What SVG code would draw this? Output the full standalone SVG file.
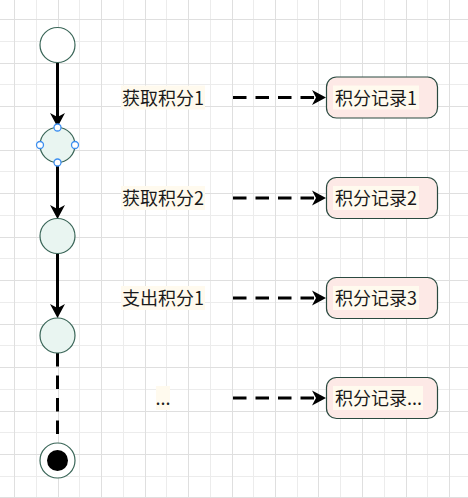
<svg xmlns="http://www.w3.org/2000/svg" width="468" height="498" viewBox="0 0 468 498">
<defs>
<style>
.gl{stroke:#ececec;stroke-width:1;fill:none}
.gd{stroke:#dfdfdf;stroke-width:1;fill:none}
.st{fill:#e9f5f1;stroke:#3a6658;stroke-width:1.2}
.box{fill:#fde9e6;stroke:#2a4a40;stroke-width:1.2}
.lbg{fill:#fffaee}
.tx{font-family:"Noto Sans CJK SC","Noto Sans",sans-serif;font-size:18px;fill:#1a1a1a}
.solid{stroke:#000;stroke-width:3;fill:none}
.dash{stroke:#000;stroke-width:3;fill:none;stroke-dasharray:13.5 9}
.hd{fill:#000}
.hdl{fill:#fff;stroke:#3d8ff0;stroke-width:1.3}
</style>
</defs>
<rect width="468" height="498" fill="#ffffff"/>
<g id="grid">
<path class="gl" d="M36.5 0V498M79.5 0V498M123.5 0V498M166.5 0V498M210.5 0V498M253.5 0V498M297.5 0V498M340.5 0V498M384.5 0V498M427.5 0V498M0 41.5H468M0 84.5H468M0 128.5H468M0 171.5H468M0 215.5H468M0 258.5H468M0 302.5H468M0 345.5H468M0 389.5H468M0 432.5H468M0 476.5H468"/>
<path class="gd" d="M14.5 0V498M58.5 0V498M101.5 0V498M145.5 0V498M188.5 0V498M232.5 0V498M275.5 0V498M318.5 0V498M362.5 0V498M406.5 0V498M449.5 0V498M0 19.5H468M0 63.5H468M0 106.5H468M0 150.5H468M0 193.5H468M0 237.5H468M0 280.5H468M0 324.5H468M0 367.5H468M0 411.5H468M0 454.5H468M0 497.5H468"/>
</g>
<g id="connectors">
<path class="solid" d="M57.5 63V118"/>
<path class="hd" d="M57.5 127L50 113L57.5 117L65 113Z"/>
<path class="solid" d="M57.5 163V210"/>
<path class="hd" d="M57.5 219L50 205L57.5 209L65 205Z"/>
<path class="solid" d="M57.5 254V309"/>
<path class="hd" d="M57.5 318L50 304L57.5 308L65 304Z"/>
<path class="dash" d="M57.5 353V442"/>
<path class="dash" d="M233 97.5H318"/>
<path class="hd" d="M326 97.5L312 90L316 97.5L312 105Z"/>
<path class="dash" d="M233 198H318"/>
<path class="hd" d="M326 198L312 190.5L316 198L312 205.5Z"/>
<path class="dash" d="M233 298H318"/>
<path class="hd" d="M326 298L312 290.5L316 298L312 305.5Z"/>
<path class="dash" d="M233 398H318"/>
<path class="hd" d="M326 398L312 390.5L316 398L312 405.5Z"/>
</g>
<g id="start"><circle cx="57.5" cy="45" r="17.5" fill="#ffffff" stroke="#3a6658" stroke-width="1.2"/></g>
<g id="state1">
<circle class="st" cx="57.5" cy="145" r="17.5"/>
<circle class="hdl" cx="57.5" cy="127.5" r="3.5"/>
<circle class="hdl" cx="57.5" cy="162.5" r="3.5"/>
<circle class="hdl" cx="40" cy="145" r="3.5"/>
<circle class="hdl" cx="75" cy="145" r="3.5"/>
</g>
<g id="state2"><circle class="st" cx="57.5" cy="236" r="17.5"/></g>
<g id="state3"><circle class="st" cx="57.5" cy="335.5" r="17.5"/></g>
<g id="end">
<circle cx="57.5" cy="460.5" r="17.5" fill="#ffffff" stroke="#3a6658" stroke-width="1.2"/>
<circle cx="57.5" cy="460.5" r="10.5" fill="#000"/>
</g>
<g id="label1"><rect class="lbg" x="121" y="85.5" width="84" height="24"/><text class="tx" x="122" y="104.5">获取积分1</text></g>
<g id="label2"><rect class="lbg" x="121" y="186" width="84" height="24"/><text class="tx" x="122" y="205">获取积分2</text></g>
<g id="label3"><rect class="lbg" x="121" y="286" width="84" height="24"/><text class="tx" x="122" y="305">支出积分1</text></g>
<g id="label4"><rect class="lbg" x="156" y="386" width="14" height="24"/><text class="tx" x="163" y="405" text-anchor="middle">...</text></g>
<g id="record1"><rect class="box" x="326.5" y="77" width="111" height="41" rx="10"/><rect class="lbg" x="333" y="85.5" width="86" height="24"/><text class="tx" x="335" y="104.5">积分记录1</text></g>
<g id="record2"><rect class="box" x="326.5" y="177.5" width="111" height="41" rx="10"/><rect class="lbg" x="333" y="186" width="86" height="24"/><text class="tx" x="335" y="205">积分记录2</text></g>
<g id="record3"><rect class="box" x="326.5" y="277.5" width="111" height="41" rx="10"/><rect class="lbg" x="333" y="286" width="86" height="24"/><text class="tx" x="335" y="305">积分记录3</text></g>
<g id="record4"><rect class="box" x="326.5" y="377.5" width="111" height="41" rx="10"/><rect class="lbg" x="333" y="386" width="90" height="24"/><text class="tx" x="335" y="405">积分记录...</text></g>
</svg>
